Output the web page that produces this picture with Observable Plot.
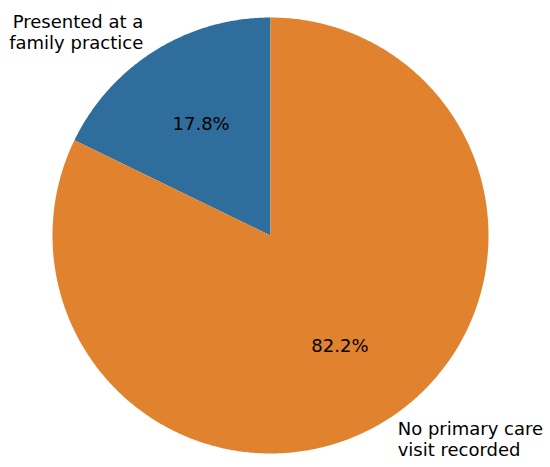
<!DOCTYPE html>
<html>
<head>
<meta charset="utf-8">
<script src="https://cdn.jsdelivr.net/npm/d3@7"></script>
<script src="https://cdn.jsdelivr.net/npm/@observablehq/plot@0.6"></script>
<style>
  body { margin: 0; background: #fff; }
</style>
</head>
<body>
<div id="chart"></div>
<script>
const categories = ["Presented at a\nfamily practice", "No primary care\nvisit recorded"];
const shares = [17.8, 82.2];
const colors = ["#2e6d9c", "#e0822e"];

// geometry (pie in unit coordinates, matplotlib-style: start at 90°, counterclockwise)
const startAngle = 90;
const total = d3.sum(shares);
const slices = [];
let a0 = startAngle;
shares.forEach((v, i) => {
  const sweep = 360 * v / total;
  slices.push({cat: categories[i], value: v, a0, a1: a0 + sweep, color: colors[i]});
  a0 += sweep;
});

const rad = d => d * Math.PI / 180;
const outline = [];
slices.forEach(s => {
  outline.push({cat: s.cat, x: 0, y: 0});
  const n = Math.max(2, Math.ceil((s.a1 - s.a0) / 0.5));
  for (let k = 0; k <= n; k++) {
    const t = rad(s.a0 + (s.a1 - s.a0) * k / n);
    outline.push({cat: s.cat, x: Math.cos(t), y: Math.sin(t)});
  }
  outline.push({cat: s.cat, x: 0, y: 0});
});

const pctLabels = slices.map(s => {
  const m = rad((s.a0 + s.a1) / 2);
  return {x: 0.6 * Math.cos(m), y: 0.6 * Math.sin(m), text: s.value.toFixed(1) + "%"};
});
const catLabels = slices.map(s => {
  const m = rad((s.a0 + s.a1) / 2);
  const x = 1.1 * Math.cos(m);
  return {x, y: 1.1 * Math.sin(m), text: s.cat, anchor: x < 0 ? "end" : "start"};
});

const R = 218;
const chart = Plot.plot({
  width: 550,
  height: 467,
  margin: 0,
  x: {domain: [-270 / R, 280 / R], axis: null},
  y: {domain: [-232 / R, 235 / R], axis: null},
  color: {domain: categories, range: colors},
  style: {fontFamily: "DejaVu Sans", background: "white"},
  marks: [
    Plot.line(outline, {x: "x", y: "y", z: "cat", fill: "cat", stroke: null, curve: "linear"}),
    Plot.text(pctLabels, {x: "x", y: "y", text: "text", fontSize: 18, fill: "black"}),
    Plot.text(catLabels.filter(d => d.anchor === "end"), {x: "x", y: "y", text: "text", fontSize: 18, fill: "black", textAnchor: "end", lineHeight: 1.17}),
    Plot.text(catLabels.filter(d => d.anchor === "start"), {x: "x", y: "y", text: "text", fontSize: 18, fill: "black", textAnchor: "start", lineHeight: 1.17})
  ]
});
document.getElementById("chart").appendChild(chart);
</script>
</body>
</html>
